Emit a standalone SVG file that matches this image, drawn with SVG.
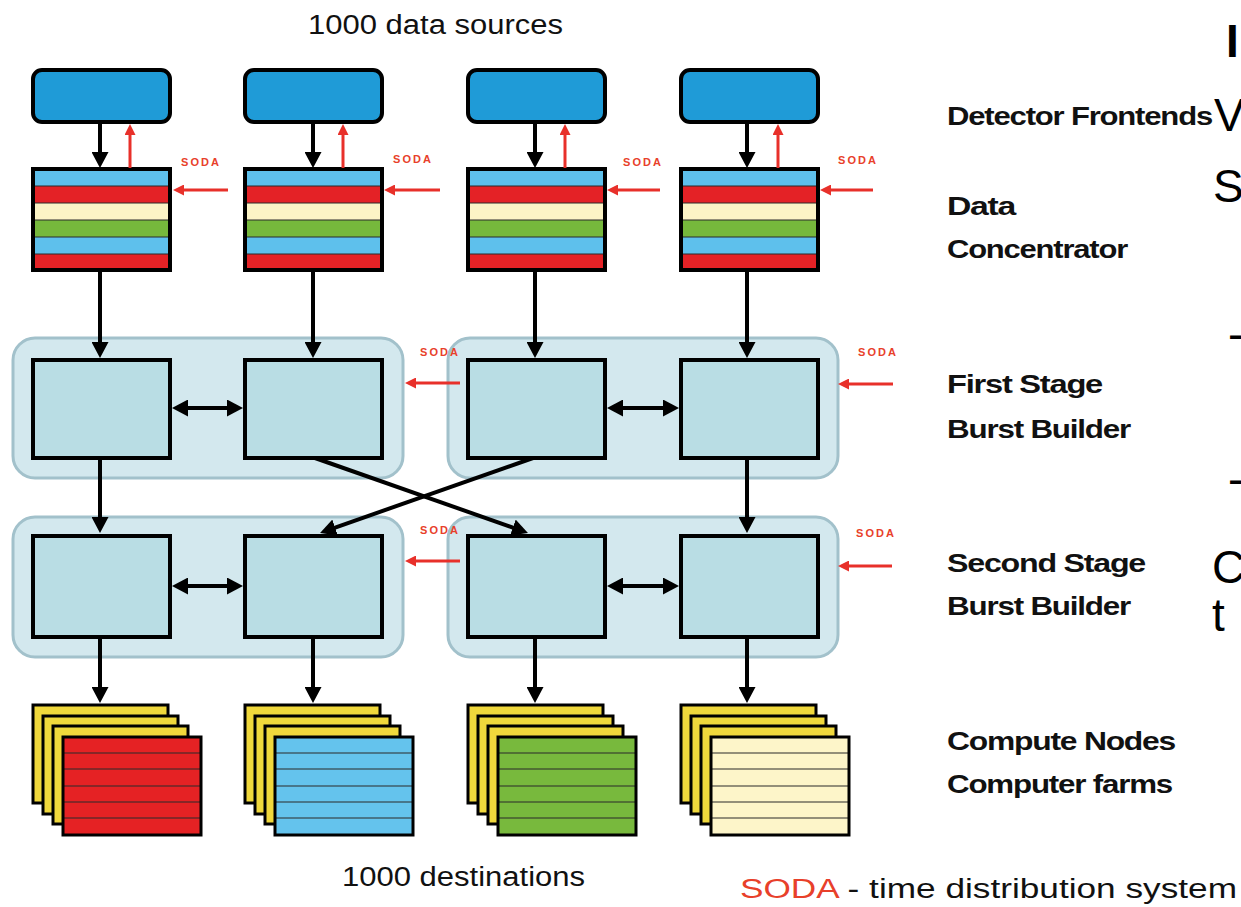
<svg xmlns="http://www.w3.org/2000/svg" xmlns:xlink="http://www.w3.org/1999/xlink" width="1241" height="907" viewBox="0 0 1241 907">
<style>
.fe{fill:#1f9bd7;stroke:#000;stroke-width:4}
.grp{fill:#d3e8ee;stroke:#a2c1cb;stroke-width:3}
.box{fill:#b9dde4;stroke:#000;stroke-width:4}
.card{fill:#f0d83c;stroke:#000;stroke-width:3}
.sep{stroke:#2a2a2a;stroke-width:1.2}
.blk{stroke:#000;stroke-width:4;fill:none;marker-end:url(#ab)}
.dbl{stroke:#000;stroke-width:4;fill:none;marker-end:url(#ab);marker-start:url(#ab)}
.red{stroke:#e8302a;stroke-width:3;fill:none;marker-end:url(#ar)}
.soda{font-family:"Liberation Sans",Arial,sans-serif;font-weight:bold;font-size:11px;fill:#e8402a;letter-spacing:2px;text-anchor:middle}
.lbl{font-family:"Liberation Sans",Arial,sans-serif;font-weight:bold;font-size:26px;fill:#111;letter-spacing:-1px}
.cap{font-family:"Liberation Sans",Arial,sans-serif;font-size:27px;fill:#111}
.big{font-family:"Liberation Sans",Arial,sans-serif;font-size:46px;fill:#000}
</style>
<defs>
<marker id="ab" viewBox="0 0 16 17" markerWidth="16" markerHeight="17" refX="3" refY="8.5" orient="auto-start-reverse" markerUnits="userSpaceOnUse"><path d="M0,0 L16,8.5 L0,17 z" fill="#000"/></marker>
<marker id="ar" viewBox="0 0 11 11" markerWidth="11" markerHeight="11" refX="2" refY="5.5" orient="auto" markerUnits="userSpaceOnUse"><path d="M0,0 L11,5.5 L0,11 z" fill="#e8302a"/></marker>
<g id="concShape">
<rect x="33" y="169" width="137" height="17" fill="#5ec0ec"/>
<rect x="33" y="186" width="137" height="17" fill="#e42226"/>
<rect x="33" y="203" width="137" height="17" fill="#fcf4c6"/>
<rect x="33" y="220" width="137" height="17" fill="#76b83c"/>
<rect x="33" y="237" width="137" height="17" fill="#5ec0ec"/>
<rect x="33" y="254" width="137" height="16" fill="#e42226"/>
<path class="sep" d="M33,186H170M33,203H170M33,220H170M33,237H170M33,254H170"/>
<rect x="33" y="169" width="137" height="101" fill="none" stroke="#000" stroke-width="4"/>
</g>
<g id="backCards">
<rect class="card" x="33" y="705" width="135" height="98"/>
<rect class="card" x="43" y="716" width="135" height="98"/>
<rect class="card" x="53" y="726" width="135" height="98"/>
</g>
<path id="frontLines" class="sep" d="M63,753H201M63,769H201M63,786H201M63,802H201M63,818H201"/>
</defs>

<g id="detector-frontends">
<rect id="fe1" class="fe" x="33" y="70" width="137" height="52" rx="9"/>
<rect id="fe2" class="fe" x="245" y="70" width="137" height="52" rx="9"/>
<rect id="fe3" class="fe" x="468" y="70" width="137" height="52" rx="9"/>
<rect id="fe4" class="fe" x="681" y="70" width="137" height="52" rx="9"/>
</g>

<g id="conc1"><use xlink:href="#concShape" x="0"/></g>
<g id="conc2"><use xlink:href="#concShape" x="212"/></g>
<g id="conc3"><use xlink:href="#concShape" x="435"/></g>
<g id="conc4"><use xlink:href="#concShape" x="648"/></g>

<g id="stage1-left">
<rect class="grp" x="13" y="338" width="390" height="140" rx="22"/>
<rect class="box" x="33" y="360" width="137" height="98"/>
<rect class="box" x="245" y="360" width="137" height="98"/>
</g>
<g id="stage1-right">
<rect class="grp" x="448" y="338" width="390" height="140" rx="22"/>
<rect class="box" x="468" y="360" width="137" height="98"/>
<rect class="box" x="681" y="360" width="137" height="98"/>
</g>
<g id="stage2-left">
<rect class="grp" x="13" y="517" width="390" height="140" rx="22"/>
<rect class="box" x="33" y="536" width="137" height="101"/>
<rect class="box" x="245" y="536" width="137" height="101"/>
</g>
<g id="stage2-right">
<rect class="grp" x="448" y="517" width="390" height="140" rx="22"/>
<rect class="box" x="468" y="536" width="137" height="101"/>
<rect class="box" x="681" y="536" width="137" height="101"/>
</g>

<g id="compute1"><use xlink:href="#backCards" x="0"/><rect x="63" y="737" width="138" height="98" fill="#e52224"/><use xlink:href="#frontLines" x="0"/><rect x="63" y="737" width="138" height="98" fill="none" stroke="#000" stroke-width="3"/></g>
<g id="compute2"><use xlink:href="#backCards" x="212"/><rect x="275" y="737" width="138" height="98" fill="#64c3ed"/><use xlink:href="#frontLines" x="212"/><rect x="275" y="737" width="138" height="98" fill="none" stroke="#000" stroke-width="3"/></g>
<g id="compute3"><use xlink:href="#backCards" x="435"/><rect x="498" y="737" width="138" height="98" fill="#78b93d"/><use xlink:href="#frontLines" x="435"/><rect x="498" y="737" width="138" height="98" fill="none" stroke="#000" stroke-width="3"/></g>
<g id="compute4"><use xlink:href="#backCards" x="648"/><rect x="711" y="737" width="138" height="98" fill="#fdf5c9"/><use xlink:href="#frontLines" x="648"/><rect x="711" y="737" width="138" height="98" fill="none" stroke="#000" stroke-width="3"/></g>

<g id="connectors">
<path class="blk" d="M100,123V155"/><path class="blk" d="M313,123V155"/><path class="blk" d="M535,123V155"/><path class="blk" d="M747,123V155"/>
<path class="red" d="M130,168V133"/><path class="red" d="M343,168V133"/><path class="red" d="M565,168V133"/><path class="red" d="M778,168V133"/>
<path class="red" d="M228,190H182"/><path class="red" d="M440,190H393"/><path class="red" d="M660,190H616"/><path class="red" d="M873,190H829"/>
<path class="blk" d="M100,272V345"/><path class="blk" d="M313,272V345"/><path class="blk" d="M535,272V345"/><path class="blk" d="M747,272V345"/>
<path class="dbl" d="M185,408H230"/><path class="dbl" d="M620,408H666"/>
<path class="red" d="M460,383H414"/><path class="red" d="M893,384H847"/>
<path class="blk" d="M100,460V520"/><path class="blk" d="M747,460V520"/>
<path class="blk" d="M315,458L515.7,528.6"/>
<path class="blk" d="M533,458L332.3,528.6"/>
<path class="dbl" d="M185,586H230"/><path class="dbl" d="M620,586H666"/>
<path class="red" d="M460,561H414"/><path class="red" d="M892,566H847"/>
<path class="blk" d="M100,639V690"/><path class="blk" d="M313,639V690"/><path class="blk" d="M535,639V690"/><path class="blk" d="M747,639V690"/>
</g>

<g id="soda-labels">
<text class="soda" x="201" y="166">SODA</text>
<text class="soda" x="413" y="163">SODA</text>
<text class="soda" x="643" y="166">SODA</text>
<text class="soda" x="858" y="164">SODA</text>
<text class="soda" x="440" y="356">SODA</text>
<text class="soda" x="878" y="356">SODA</text>
<text class="soda" x="440" y="534">SODA</text>
<text class="soda" x="876" y="537">SODA</text>
</g>

<g id="labels">
<text class="cap" x="308" y="34" textLength="255" lengthAdjust="spacingAndGlyphs">1000 data sources</text>
<text class="cap" x="342" y="886" textLength="243" lengthAdjust="spacingAndGlyphs">1000 destinations</text>
<text class="cap" x="740" y="898" textLength="497" lengthAdjust="spacingAndGlyphs"><tspan fill="#e8402a">SODA</tspan> - time distribution system</text>
<text class="lbl" x="947" y="125" textLength="265" lengthAdjust="spacingAndGlyphs">Detector Frontends</text>
<text class="lbl" x="947" y="215" textLength="68" lengthAdjust="spacingAndGlyphs">Data</text>
<text class="lbl" x="947" y="258" textLength="180" lengthAdjust="spacingAndGlyphs">Concentrator</text>
<text class="lbl" x="947" y="393" textLength="155" lengthAdjust="spacingAndGlyphs">First Stage</text>
<text class="lbl" x="947" y="438" textLength="183" lengthAdjust="spacingAndGlyphs">Burst Builder</text>
<text class="lbl" x="947" y="572" textLength="198" lengthAdjust="spacingAndGlyphs">Second Stage</text>
<text class="lbl" x="947" y="615" textLength="183" lengthAdjust="spacingAndGlyphs">Burst Builder</text>
<text class="lbl" x="947" y="750" textLength="228" lengthAdjust="spacingAndGlyphs">Compute Nodes</text>
<text class="lbl" x="947" y="793" textLength="225" lengthAdjust="spacingAndGlyphs">Computer farms</text>
</g>

<g id="clipped-text">
<text class="big" x="1226" y="57" font-weight="bold">I</text>
<text class="big" x="1214" y="131">V</text>
<text class="big" x="1213" y="202">S</text>
<text class="big" x="1228" y="350">-</text>
<text class="big" x="1228" y="495">-</text>
<text class="big" x="1212" y="583">C</text>
<text class="big" x="1212" y="631">t</text>
</g>
</svg>
